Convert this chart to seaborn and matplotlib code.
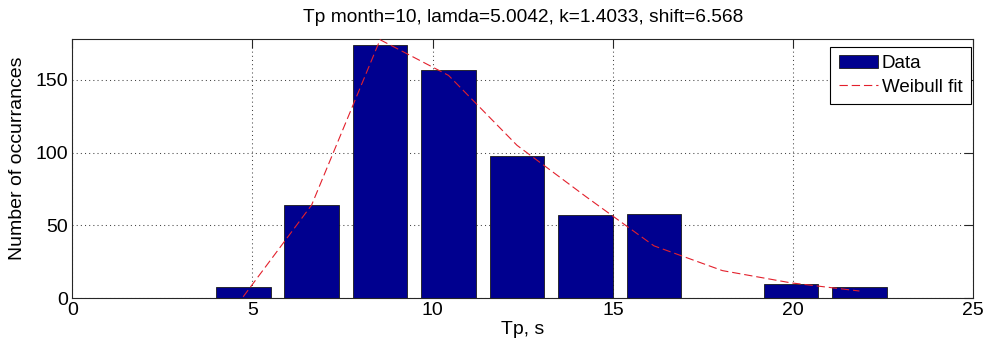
import matplotlib
matplotlib.use("Agg")
import matplotlib.pyplot as plt
import pandas as pd
import seaborn as sns

# Histogram of peak wave period Tp with a Weibull fit evaluated at the bin centres
bin_centers = [4.74, 6.64, 8.54, 10.44, 12.34, 14.24, 16.14, 18.04, 19.94, 21.84]
counts = [8, 64, 174, 157, 98, 57, 58, 0, 10, 8]
weibull_fit = [1, 64, 177.5, 153, 105, 70, 36, 19, 10.6, 5]

title_text = "Tp month=10, lamda=5.0042, k=1.4033, shift=6.568"
x_label = "Tp, s"
y_label = "Number of occurrances"
x_ticks = [0, 5, 10, 15, 20, 25]
y_ticks = [0, 50, 100, 150]

sns.set_style("white")
plt.rcParams["font.family"] = ["Liberation Sans", "DejaVu Sans"]
plt.rcParams["text.color"] = "black"
plt.rcParams["axes.labelcolor"] = "black"

W, H = 987, 348
fig = plt.figure(figsize=(W / 100, H / 100), dpi=100)
left, right, top, bottom = 72.3, 973.3, 39.0, 298.3
ax = fig.add_axes([left / W, 1 - bottom / H, (right - left) / W, (bottom - top) / H])

df = pd.DataFrame({"Tp": bin_centers, "count": counts, "fit": weibull_fit})

sns.barplot(data=df, x="Tp", y="count", native_scale=True, width=0.8,
            color="#00008f", saturation=1, edgecolor="#1a1a1a", linewidth=0.6,
            errorbar=None, label="Data", ax=ax, zorder=2)
sns.lineplot(data=df, x="Tp", y="fit", color="#e3202c", linewidth=0.8,
             linestyle=(0, (7.5, 3.5)), label="Weibull fit", ax=ax, zorder=3)

ax.set_xlim(0, 25)
ax.set_ylim(0, 178)
ax.set_xticks(x_ticks)
ax.set_xticklabels([str(t) for t in x_ticks])
ax.set_yticks(y_ticks)
ax.set_yticklabels([str(t) for t in y_ticks])

ax.grid(True, color="#444444", linestyle=(0, (1, 3)), linewidth=0.75)
ax.set_axisbelow(True)

for s in ax.spines.values():
    s.set_visible(True)
    s.set_color("#262626")
    s.set_linewidth(0.8)

ax.tick_params(axis="both", which="major", direction="in", length=6.5, width=0.8,
               color="#262626", top=True, right=True, labelsize=14,
               labelcolor="black")
ax.tick_params(axis="x", pad=2.5)
ax.tick_params(axis="y", pad=3)

ax.set_title(title_text, fontsize=13.8, y=(bottom - 17) / (bottom - top),
             va="center", pad=0, color="black")
ax.set_xlabel(x_label, fontsize=14, va="center", color="black")
ax.xaxis.set_label_coords(0.5, (bottom - 329) / (bottom - top))
ax.set_ylabel(y_label, fontsize=14, va="center", color="black")
ax.yaxis.set_label_coords((18 - left) / (right - left), (bottom - 158.4) / (bottom - top))

handles, labels = ax.get_legend_handles_labels()
order = [labels.index("Data"), labels.index("Weibull fit")]
leg = ax.legend([handles[i] for i in order], [labels[i] for i in order],
                loc="upper right", bbox_to_anchor=(971 / W, 1 - 46.7 / H),
                bbox_transform=fig.transFigure, borderaxespad=0, fontsize=13.5,
                frameon=True, fancybox=False, framealpha=1, edgecolor="black",
                handlelength=2.1, handletextpad=0.2, labelspacing=0.35,
                borderpad=0.45)
leg.get_frame().set_linewidth(0.8)
for t in leg.get_texts():
    t.set_color("black")

fig.savefig("out.png", dpi=100)
